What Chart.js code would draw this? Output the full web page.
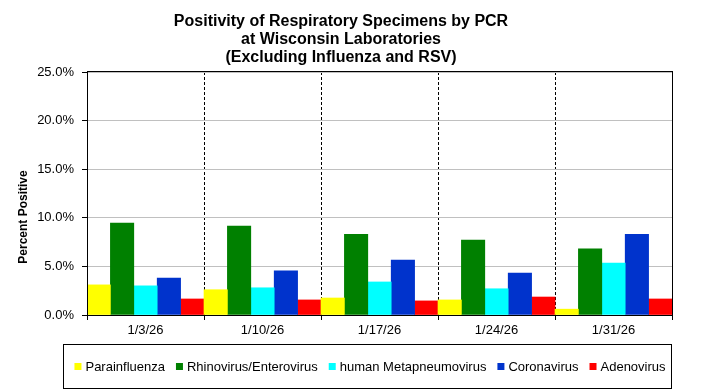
<!DOCTYPE html>
<html>
<head>
<meta charset="utf-8">
<script src="https://cdn.jsdelivr.net/npm/chart.js@4.4.1/dist/chart.umd.min.js"></script>
<style>
  body { margin: 0; background: #fff; }
  #chart { display: block; }
</style>
</head>
<body>
<canvas id="chart" width="704" height="391"></canvas>
<script>
// === Data ===
const weeks = ['1/3/26', '1/10/26', '1/17/26', '1/24/26', '1/31/26'];
const parainfluenza = [3.1, 2.6, 1.75, 1.55, 0.6];
const rhinoEntero = [9.45, 9.15, 8.3, 7.7, 6.8];
const hmpv = [3.0, 2.8, 3.4, 2.7, 5.35];
const coronavirus = [3.8, 4.55, 5.65, 4.3, 8.3];
const adenovirus = [1.65, 1.55, 1.45, 1.85, 1.65];
const yTicks = [0, 5, 10, 15, 20, 25];

const titleLines = [
  'Positivity of Respiratory Specimens by PCR',
  'at Wisconsin Laboratories',
  '(Excluding Influenza and RSV)'
];
const yTitle = 'Percent Positive';

const FONT = "'Liberation Sans', Arial, sans-serif";

// === Title, axis title, legend box and plot frame ===
Chart.register({
  id: 'frame',
  afterDraw(chart) {
    const ctx = chart.ctx;
    const a = chart.chartArea;
    ctx.save();

    // plot border
    ctx.strokeStyle = '#000';
    ctx.lineWidth = 1;
    ctx.strokeRect(Math.round(a.left) + 0.5, Math.round(a.top) - 0.5,
      Math.round(a.right - a.left), Math.round(a.bottom - a.top) + 1);

    // title
    ctx.fillStyle = '#000';
    ctx.font = `bold 16px ${FONT}`;
    ctx.textAlign = 'center';
    ctx.textBaseline = 'middle';
    titleLines.forEach((t, i) => ctx.fillText(t, 341, 22 + i * 18));

    // y axis title
    ctx.font = `bold 12px ${FONT}`;
    ctx.translate(24, 217);
    ctx.rotate(-Math.PI / 2);
    ctx.fillText(yTitle, 0, 0);
    ctx.setTransform(1, 0, 0, 1, 0, 0);

    // legend
    ctx.strokeRect(63.5, 344.5, 608, 44);
    ctx.font = `13px ${FONT}`;
    ctx.textAlign = 'left';
    const items = chart.data.datasets.map(d => ({
      label: d.label, color: d.backgroundColor, w: ctx.measureText(d.label).width
    }));
    const box = 7, gapText = 4, gapItem = 11;
    const total = items.reduce((s, it) => s + box + gapText + it.w, 0) + gapItem * (items.length - 1);
    let x = 370 - total / 2;
    const y = 366;
    items.forEach(it => {
      ctx.fillStyle = it.color;
      ctx.fillRect(x, y - 3, box, box);
      ctx.fillStyle = '#000';
      ctx.fillText(it.label, x + box + gapText, y + 1);
      x += box + gapText + it.w + gapItem;
    });

    ctx.restore();
  }
});

const series = [
  { label: 'Parainfluenza', data: parainfluenza, color: '#ffff00' },
  { label: 'Rhinovirus/Enterovirus', data: rhinoEntero, color: '#008000' },
  { label: 'human Metapneumovirus', data: hmpv, color: '#00ffff' },
  { label: 'Coronavirus', data: coronavirus, color: '#0033cc' },
  { label: 'Adenovirus', data: adenovirus, color: '#ff0000' }
];

new Chart(document.getElementById('chart'), {
  type: 'bar',
  data: {
    labels: weeks,
    datasets: series.map(s => ({
      label: s.label,
      data: s.data,
      backgroundColor: s.color,
      borderWidth: 0,
      categoryPercentage: 1,
      barPercentage: 1
    }))
  },
  options: {
    responsive: false,
    animation: false,
    layout: { padding: { top: 72, right: 32, bottom: 46, left: 0 } },
    plugins: {
      legend: { display: false },
      title: { display: false },
      tooltip: { enabled: false }
    },
    scales: {
      x: {
        offset: true,
        afterFit(scale) { scale.height = 30; },
        grid: {
          offset: true,
          color: '#000',
          lineWidth: 1,
          tickBorderDash: [],
          tickColor: '#000',
          tickLength: 5
        },
        border: { color: '#000', width: 1, dash: [3, 2] },
        ticks: {
          color: '#000',
          font: { family: FONT, size: 13 },
          padding: 3,
          maxRotation: 0
        }
      },
      y: {
        min: 0,
        max: 25,
        afterFit(scale) { scale.width = 87; },
        afterBuildTicks(scale) { scale.ticks = yTicks.map(v => ({ value: v })); },
        grid: {
          color: '#c0c0c0',
          lineWidth: 1,
          tickColor: '#000',
          tickLength: 5
        },
        border: { color: '#000', width: 1 },
        ticks: {
          color: '#000',
          font: { family: FONT, size: 13 },
          padding: 8,
          callback: v => v.toFixed(1) + '%'
        }
      }
    }
  }
});
</script>
</body>
</html>
